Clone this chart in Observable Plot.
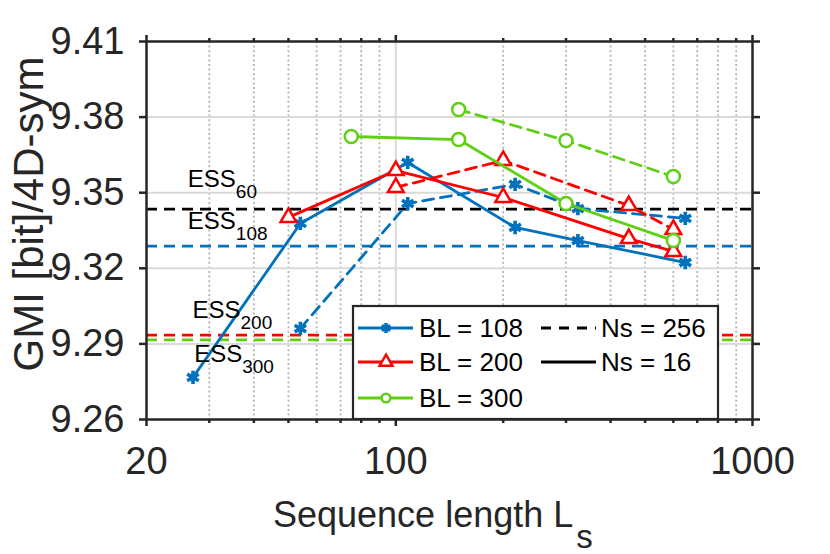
<!DOCTYPE html>
<html>
<head>
<meta charset="utf-8">
<script src="https://cdn.jsdelivr.net/npm/d3@7"></script>
<script src="https://cdn.jsdelivr.net/npm/@observablehq/plot@0.6"></script>
<style>
  html, body { margin: 0; padding: 0; background: #fff; }
  #chart { width: 830px; height: 554px; }
</style>
</head>
<body>
<div id="chart"></div>
<script>
// ---------- data ----------
const blNames = ["BL = 108", "BL = 200", "BL = 300"];
const blColors = ["#0072BD", "#FF0000", "#5FCF14"];
const blSymbols = ["asterisk", "triangle", "circle"];
const nsNames = ["Ns = 256", "Ns = 16"];

// Ns = 16 (solid)
const bl108_ns16_x = [27, 54, 108, 216, 324, 648];
const bl108_ns16_y = [9.2767, 9.3378, 9.3620, 9.3362, 9.3310, 9.3223];
const bl200_ns16_x = [50, 100, 200, 450, 600];
const bl200_ns16_y = [9.3402, 9.3588, 9.3481, 9.3318, 9.3267];
const bl300_ns16_x = [75, 150, 300, 600];
const bl300_ns16_y = [9.3723, 9.3711, 9.3457, 9.3310];

// Ns = 256 (dashed)
const bl108_ns256_x = [54, 108, 216, 324, 648];
const bl108_ns256_y = [9.2961, 9.3457, 9.3533, 9.3437, 9.3398];
const bl200_ns256_x = [100, 200, 450, 600];
const bl200_ns256_y = [9.3521, 9.3628, 9.3449, 9.3354];
const bl300_ns256_x = [150, 300, 600];
const bl300_ns256_y = [9.3830, 9.3707, 9.3564];

// ESS reference levels
const essNames = ["60", "108", "200", "300"];
const essValues = [9.3435, 9.3288, 9.2935, 9.2916];
const essColors = ["#000000", "#0072BD", "#FF0000", "#5FCF14"];
// label anchors (data coords: x, baseline y)
const essLabelX = [26.2, 26.2, 27.0, 27.3];
const essLabelY = [9.3521, 9.3354, 9.3001, 9.2826];

// ticks
const xMajor = [20, 100, 1000];
const xMinor = [30, 40, 50, 60, 70, 80, 90, 200, 300, 400, 500, 600, 700, 800, 900];
const yTicks = [9.26, 9.29, 9.32, 9.35, 9.38, 9.41];
const yGrid = [9.29, 9.32, 9.35, 9.38];

// ---------- build rows ----------
function rows(xs, ys, bl, ns) { return xs.map((x, i) => ({x, y: ys[i], bl, ns})); }
const solid = [
  rows(bl108_ns16_x, bl108_ns16_y, 0, 1),
  rows(bl200_ns16_x, bl200_ns16_y, 1, 1),
  rows(bl300_ns16_x, bl300_ns16_y, 2, 1)
];
const dashed = [
  rows(bl108_ns256_x, bl108_ns256_y, 0, 0),
  rows(bl200_ns256_x, bl200_ns256_y, 1, 0),
  rows(bl300_ns256_x, bl300_ns256_y, 2, 0)
];
const ess = essValues.map((v, i) => ({y: v, c: essColors[i]}));

const AX = "#262626";
const FONT = "'Liberation Sans', Arial, Helvetica, sans-serif";
const DASH = "11,7";
const LW = 2.8;

const seriesMarks = [];
for (let i = 0; i < 3; i++) {
  const dotOpts = () => ({
    x: "x", y: "y", symbol: blSymbols[i],
    r: i === 0 ? 6.3 : (i === 1 ? 5.8 : 6.5),
    stroke: blColors[i], strokeWidth: i === 0 ? 3.6 : 2.5,
    fill: i === 0 ? "none" : "white"
  });
  seriesMarks.push(
    Plot.line(dashed[i], {x: "x", y: "y", stroke: blColors[i], strokeWidth: LW, strokeDasharray: DASH}),
    Plot.dot(dashed[i], dotOpts()),
    Plot.line(solid[i], {x: "x", y: "y", stroke: blColors[i], strokeWidth: LW}),
    Plot.dot(solid[i], dotOpts())
  );
}

const chart = Plot.plot({
  width: 830,
  height: 554,
  marginLeft: 146,
  marginRight: 78,
  marginTop: 41,
  marginBottom: 135,
  style: {fontFamily: FONT, color: AX, background: "white", overflow: "visible"},
  x: {type: "log", domain: [20, 1000], label: null},
  y: {domain: [9.26, 9.41], label: null},
  marks: [
    Plot.ruleX(xMinor, {x: d => d, stroke: "#b4b4b4", strokeWidth: 1.8, strokeDasharray: "2,2.6"}),
    Plot.ruleX([100], {x: d => d, stroke: "#dadada", strokeWidth: 2}),
    Plot.ruleY(yGrid, {y: d => d, stroke: "#dadada", strokeWidth: 2}),
    Plot.ruleY(ess, {y: "y", stroke: "c", strokeWidth: 2.6, strokeDasharray: DASH}),
    ...seriesMarks,
    Plot.frame({stroke: AX, strokeWidth: 2.5}),
    Plot.axisX(xMajor, {anchor: "bottom", tickSize: 7, tickPadding: 21, strokeWidth: 2.5,
      fontSize: 38, tickFormat: d => String(d), label: null}),
    Plot.axisX(xMinor, {anchor: "bottom", tickSize: 4, strokeWidth: 2.5, tickFormat: () => "", label: null}),
    Plot.axisX(xMajor, {anchor: "top", tickSize: 7, strokeWidth: 2.5, tickFormat: () => "", label: null}),
    Plot.axisX(xMinor, {anchor: "top", tickSize: 4, strokeWidth: 2.5, tickFormat: () => "", label: null}),
    Plot.axisY(yTicks, {anchor: "left", tickSize: 7, tickPadding: 15, strokeWidth: 2.5,
      fontSize: 38, tickFormat: d3.format(".2f"), label: null}),
    Plot.axisY(yTicks, {anchor: "right", tickSize: 7, strokeWidth: 2.5, tickFormat: () => "", label: null})
  ]
});
document.getElementById("chart").appendChild(chart);

// ---------- annotations via the plot's own scales ----------
const sx = chart.scale("x"), sy = chart.scale("y");
const px = v => sx.apply(v), py = v => sy.apply(v);
const svg = d3.select(chart);

// ESS labels
const essG = svg.append("g").attr("font-family", FONT).attr("fill", "#000").attr("text-anchor", "start");
essNames.forEach((n, i) => {
  const t = essG.append("text").attr("x", px(essLabelX[i])).attr("y", py(essLabelY[i])).attr("font-size", 24);
  t.append("tspan").text("ESS");
  t.append("tspan").attr("font-size", 19).attr("dy", 11).text(n);
});

// axis titles
const xl = svg.append("text").attr("x", 273).attr("y", 527).attr("font-family", FONT)
  .attr("text-anchor", "start").attr("font-size", 36).attr("fill", AX);
xl.append("tspan").text("Sequence length L");
xl.append("tspan").attr("dx", 3).attr("dy", 21).attr("font-size", 33).text("s");

svg.append("text").attr("transform", "translate(43,214) rotate(-90)")
  .attr("text-anchor", "middle").attr("font-family", FONT).attr("font-size", 42)
  .attr("fill", AX).text("GMI [bit]/4D-sym");

// legend
const lg = svg.append("g").attr("font-family", FONT).attr("text-anchor", "start");
lg.append("rect").attr("x", 353).attr("y", 306).attr("width", 365).attr("height", 113)
  .attr("fill", "white").attr("stroke", AX).attr("stroke-width", 2.2);
const rowY = [328, 362, 398];
const symMap = {asterisk: d3.symbolAsterisk, triangle: d3.symbolTriangle, circle: d3.symbolCircle};
blNames.forEach((name, i) => {
  lg.append("line").attr("x1", 358).attr("x2", 413).attr("y1", rowY[i]).attr("y2", rowY[i])
    .attr("stroke", blColors[i]).attr("stroke-width", LW);
  const sz = i === 0 ? 70 : (i === 1 ? 70 : 60);
  lg.append("path").attr("d", d3.symbol(symMap[blSymbols[i]], sz)())
    .attr("transform", `translate(386,${rowY[i]})`)
    .attr("fill", i === 0 ? "none" : "white").attr("stroke", blColors[i])
    .attr("stroke-width", i === 0 ? 3.4 : 2.5);
  lg.append("text").attr("x", 419).attr("y", rowY[i] + 9).attr("font-size", 26).attr("fill", "#000").text(name);
});
nsNames.forEach((name, i) => {
  lg.append("line").attr("x1", 541).attr("x2", 596).attr("y1", rowY[i]).attr("y2", rowY[i])
    .attr("stroke", "#000").attr("stroke-width", LW).attr("stroke-dasharray", i === 0 ? "10,8" : null);
  lg.append("text").attr("x", 601).attr("y", rowY[i] + 9).attr("font-size", 26).attr("fill", "#000").text(name);
});
</script>
</body>
</html>
